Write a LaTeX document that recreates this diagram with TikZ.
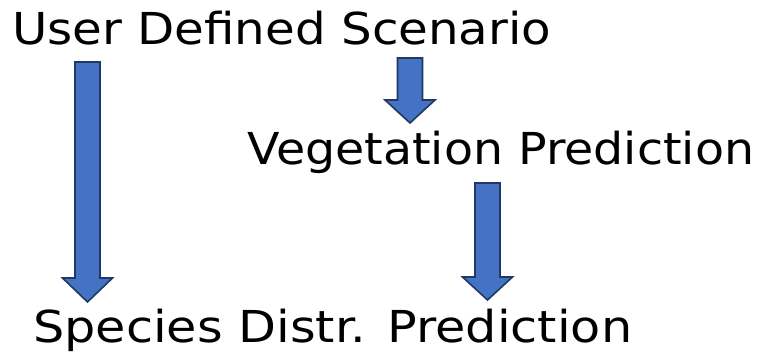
\documentclass[tikz,border=0pt]{standalone}
\usepackage{fontspec}
\setmainfont{DejaVu Sans}
\definecolor{arrfill}{HTML}{4472C4}
\definecolor{arrline}{HTML}{1F3864}
\tikzset{
  lbl/.style={anchor=base west, inner sep=0pt, font=\fontsize{44}{52}\selectfont},
  blockarr/.style={fill=arrfill, draw=arrline, line width=1.6pt, line join=miter}
}
% #1 centre x, #2 top y, #3 head start y, #4 tip y
\newcommand{\blockarrow}[4]{%
  \draw[blockarr] (#1-12.5,-#2) -- (#1+12.5,-#2) -- (#1+12.5,-#3) -- (#1+25,-#3)
    -- (#1,-#4) -- (#1-25,-#3) -- (#1-12.5,-#3) -- cycle;}
\begin{document}
\begin{tikzpicture}[x=1pt,y=1pt]
\useasboundingbox (0,0) rectangle (766,-355);
\node[lbl] (uds) at (12,-45) {\scalebox{1.098}[1]{User Defined Scenario}};
\node[lbl] (veg) at (247,-165) {\scalebox{1.079}[1]{Vegetation Prediction}};
\node[lbl] (spd) at (33,-343) {\scalebox{1.12}[1]{Species Distr. Prediction}};
\blockarrow{87.5}{62}{278}{302}
\blockarrow{410}{58}{100}{123}
\blockarrow{487.5}{183}{277}{300}
\end{tikzpicture}
\end{document}
